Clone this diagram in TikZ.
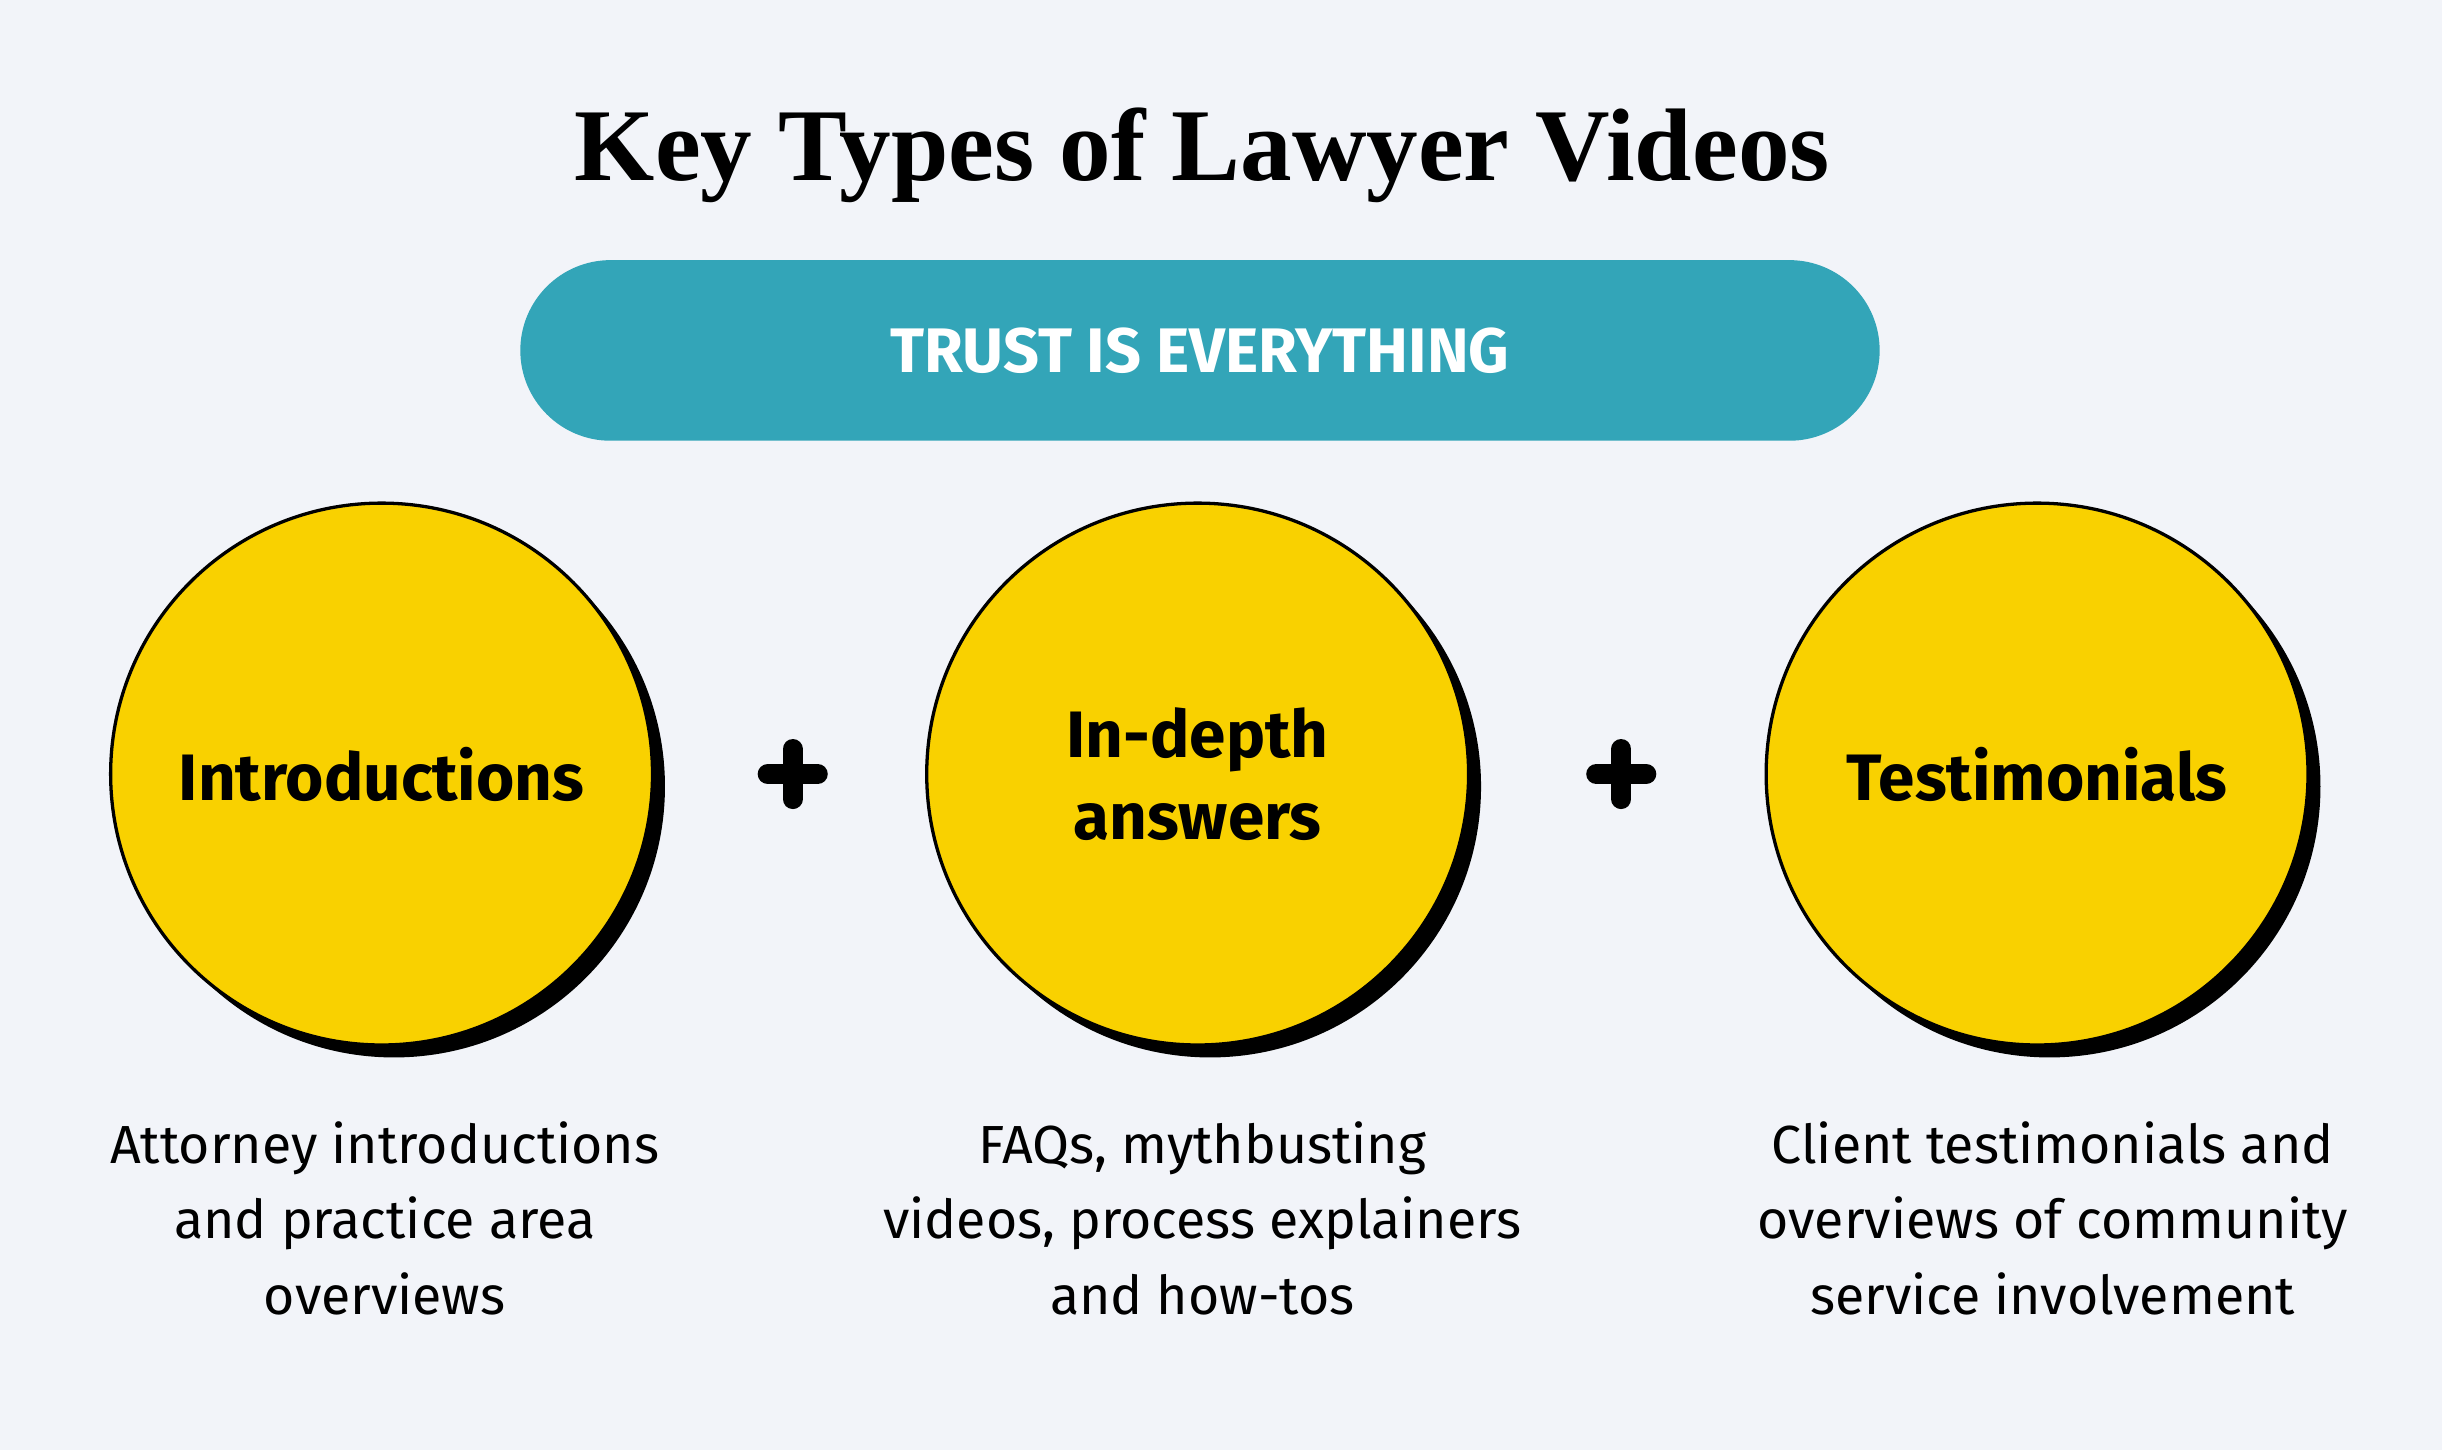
\documentclass[tikz,border=0pt]{standalone}
\usepackage{fontspec}
\setmainfont{Fira Sans}
\newfontfamily\titlefont{Liberation Serif}
\definecolor{bg}{HTML}{F2F4F9}
\definecolor{teal}{HTML}{33A5B8}
\definecolor{yel}{HTML}{F9D100}
\begin{document}
\begin{tikzpicture}[x=0.02cm,y=-0.02cm,
  circ/.style={circle,fill=yel,draw=black,line width=1.2pt,minimum size=6.96cm,inner sep=0pt},
  shad/.style={circle,fill=black,minimum size=6.96cm,inner sep=0pt},
  lab/.style={font=\fontsize{24}{30}\selectfont\bfseries,align=center},
  desc/.style={font=\fontsize{19.6}{27.5}\selectfont,align=center,anchor=north},
  plus/.style={line width=2.6mm,line cap=round}]
\fill[bg] (0,0) rectangle (1568,931);
\useasboundingbox (0,0) rectangle (1568,931);
\node[font=\titlefont\fontsize{37.7}{40}\selectfont\bfseries] (title) at (772,100) {Key Types of Lawyer Videos};
\node[fill=teal,rounded corners=1.16cm,minimum width=17.46cm,minimum height=2.32cm,text=white,font=\fontsize{23}{26}\selectfont\bfseries] (banner) at (770.5,225) {TRUST IS EVERYTHING};
\foreach \n/\x in {a/245,b/769,c/1308}{
  \node[shad] (s\n) at (\x+8,505) {};
  \node[circ] (\n) at (\x,497) {};
}
\node[lab] at (a) {Introductions};
\node[lab] at (b) {In-depth\\answers};
\node[lab] at (c) {Testimonials};
\draw[plus] (509,481) -- (509,513) (493,497) -- (525,497);
\draw[plus] (1041,481) -- (1041,513) (1025,497) -- (1057,497);
\node[desc] (da) at (247,714) {Attorney introductions\\and practice area\\overviews};
\node[desc] (db) at (772,714) {FAQs, mythbusting\\videos, process explainers\\and how-tos};
\node[desc] (dc) at (1318,714) {Client testimonials and\\overviews of community\\service involvement};
\end{tikzpicture}
\end{document}
